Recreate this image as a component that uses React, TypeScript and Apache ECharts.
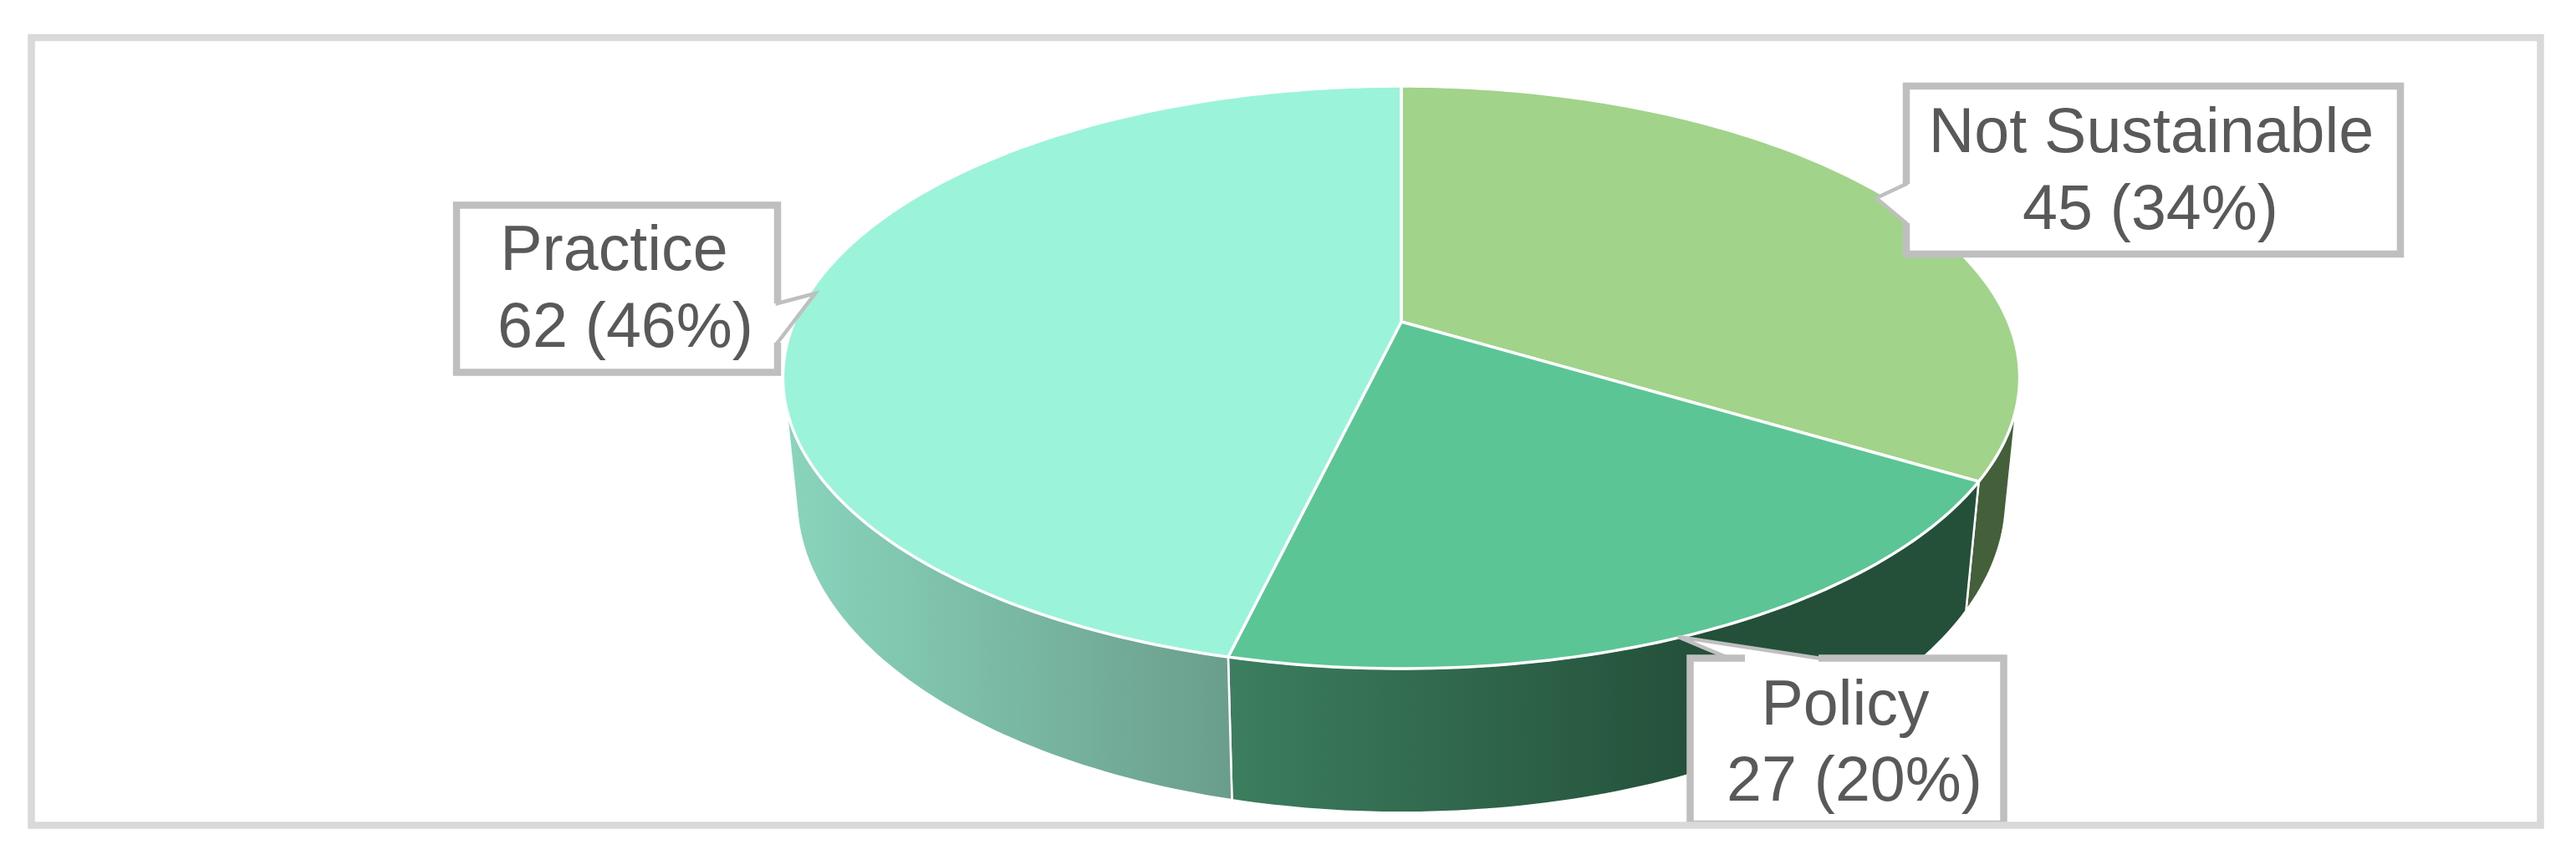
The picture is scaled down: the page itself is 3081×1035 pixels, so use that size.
import React, { useEffect, useRef } from "react";
import * as echarts from "echarts";

const categories = ["Not Sustainable", "Policy", "Practice"];
const values = [45, 27, 62];
const topColors = ["#a1d48a", "#5cc596", "#9bf4d9"];

const FONT = '75.4px "Liberation Sans", Arial, sans-serif';
const TEXT = "#595959";
const BORDER = "#bfbfbf";
const FRAME = "#d9d9d9";

// perspective model of the pie
const CX = 1676;
const K = 0.1908;
const TOP_FACE = { yc: 385, rx: 726, ry: 335.8 };
const BOTTOM_FACE = { yc: 525, rx: 710, ry: 362 };

const total = values.reduce((a, b) => a + b, 0);
const angleOf = (i: number) =>
  (values.slice(0, i).reduce((a, b) => a + b, 0) / total) * Math.PI * 2;

function project(t: number, bottom: boolean): number[] {
  const f = bottom ? BOTTOM_FACE : TOP_FACE;
  const w = 1 + K * Math.cos(t);
  return [CX + (f.rx * Math.sin(t)) / w, f.yc - (f.ry * Math.cos(t)) / w];
}

function arc(a: number, b: number, bottom: boolean): number[][] {
  const n = Math.max(2, Math.ceil(Math.abs(b - a) / (Math.PI / 180)));
  const pts: number[][] = [];
  for (let j = 0; j <= n; j++) pts.push(project(a + ((b - a) * j) / n, bottom));
  return pts;
}

// silhouette angles where the walls leave the view
const SIL_R = Math.acos(-K);
const SIL_L = Math.PI * 2 - SIL_R;

// angle on the bottom face where the straight side edge touches it
function tangentAngle(): number {
  const top = project(SIL_R, false);
  let best = SIL_R;
  let bestRatio = -Infinity;
  for (let d = 0; d < 60; d += 0.25) {
    const t = SIL_R + (d * Math.PI) / 180;
    const p = project(t, true);
    const ratio = (p[0] - top[0]) / (p[1] - top[1]);
    if (ratio > bestRatio) {
      bestRatio = ratio;
      best = t;
    }
  }
  return best;
}
const TAN_R = tangentAngle();
const TAN_L = Math.PI * 2 - TAN_R;

const wallFills = [
  "#44603a",
  new echarts.graphic.LinearGradient(1470, 0, 2400, 0, [
    { offset: 0, color: "#3c7e5f" },
    { offset: 0.6, color: "#24503a" },
    { offset: 1, color: "#24503a" },
  ], true),
  new echarts.graphic.LinearGradient(935, 0, 1470, 0, [
    { offset: 0, color: "#8ad5bd" },
    { offset: 1, color: "#6a9e8c" },
  ], true),
];

// callout layout: box, pointer, and text lines
const boxes = [
  { l: 2280, t: 103, r: 2871, b: 304, tip: [2244, 237], base: [[2280, 220], [2280, 267]], gap: [[2280, 220], [2280, 267]], side: "left",
    lines: [[2573, 156], [2572, 248]] },
  { l: 2021.5, t: 787.5, r: 2396.5, b: 986, tip: [2007, 762], base: [[2068, 787.5], [2175, 787.5]], gap: [[2087, 787.5], [2175, 787.5]], side: "top",
    lines: [[2207, 841], [2218, 932]] },
  { l: 546, t: 245.5, r: 930, b: 445.5, tip: [975, 351], base: [[930, 363], [930, 410]], gap: [[930, 363], [930, 410]], side: "right",
    lines: [[734.5, 297], [748, 389]] },
];

function boxItems(i: number) {
  const bx = boxes[i];
  const { l, t, r, b, tip, base, gap } = bx;
  let outline: number[][];
  let border: number[][];
  if (bx.side === "left") {
    outline = [[l, t], [r, t], [r, b], [l, b], base[1], tip, base[0]];
    border = [gap[0], [l, t], [r, t], [r, b], [l, b], gap[1]];
  } else if (bx.side === "right") {
    outline = [[l, t], [r, t], base[0], tip, base[1], [r, b], [l, b]];
    border = [gap[1], [r, b], [l, b], [l, t], [r, t], gap[0]];
  } else {
    outline = [[l, t], base[0], tip, base[1], [r, t], [r, b], [l, b]];
    border = [gap[1], [r, t], [r, b], [l, b], [l, t], gap[0]];
  }
  const pct = Math.round((values[i] / total) * 100);
  const texts = [categories[i], `${values[i]} (${pct}%)`];
  return [
    { type: "polygon", shape: { points: outline }, style: { fill: "#fff", stroke: BORDER, lineWidth: 4.5 } },
    { type: "polyline", shape: { points: border }, style: { fill: "none", stroke: BORDER, lineWidth: 8.5, lineJoin: "miter" } },
    ...texts.map((text, j) => ({
      type: "text",
      style: {
        text,
        x: bx.lines[j][0],
        y: bx.lines[j][1],
        fill: TEXT,
        font: FONT,
        align: "center",
        verticalAlign: "middle",
      },
    })),
  ];
}

export default function App() {
  const ref = useRef<HTMLDivElement>(null);
  useEffect(() => {
    const chart = echarts.init(ref.current!, undefined, { renderer: "svg" });
    chart.setOption({
      animation: false,
      backgroundColor: "#ffffff",
      series: [
        {
          type: "custom",
          name: "walls",
          coordinateSystem: "none",
          silent: true,
          data: values,
          renderItem: (p: any) => {
            const i = p.dataIndex;
            const a = Math.max(angleOf(i), SIL_R);
            const b = Math.min(angleOf(i + 1), SIL_L);
            if (b <= a) return { type: "group", children: [] };
            const a2 = Math.max(angleOf(i), TAN_R);
            const b2 = Math.min(angleOf(i + 1), TAN_L);
            const pts = [...arc(a, b, false), ...arc(b2, a2, true)];
            return {
              type: "polygon",
              shape: { points: pts },
              style: { fill: wallFills[i], stroke: "#ffffff", lineWidth: 2.5, lineJoin: "round" },
            };
          },
        },
        {
          type: "custom",
          name: "tops",
          coordinateSystem: "none",
          silent: true,
          data: values,
          renderItem: (p: any) => {
            const i = p.dataIndex;
            const pts = [[CX, TOP_FACE.yc], ...arc(angleOf(i), angleOf(i + 1), false)];
            return {
              type: "polygon",
              shape: { points: pts },
              style: { fill: topColors[i], stroke: "#ffffff", lineWidth: 3.5, lineJoin: "round" },
            };
          },
        },
        {
          type: "custom",
          name: "labels",
          coordinateSystem: "none",
          silent: true,
          data: values,
          renderItem: (p: any) => ({ type: "group", children: boxItems(p.dataIndex) }),
        },
      ],
      graphic: [
        {
          type: "rect",
          z: 100,
          shape: { x: 37.5, y: 45, width: 3001, height: 942.5 },
          style: { fill: "none", stroke: FRAME, lineWidth: 8.5 },
        },
      ],
    });
    return () => chart.dispose();
  }, []);
  return (
    <div
      ref={ref}
      style={{ position: "absolute", left: 0, top: 0, width: 3081, height: 1035 }}
    />
  );
}
